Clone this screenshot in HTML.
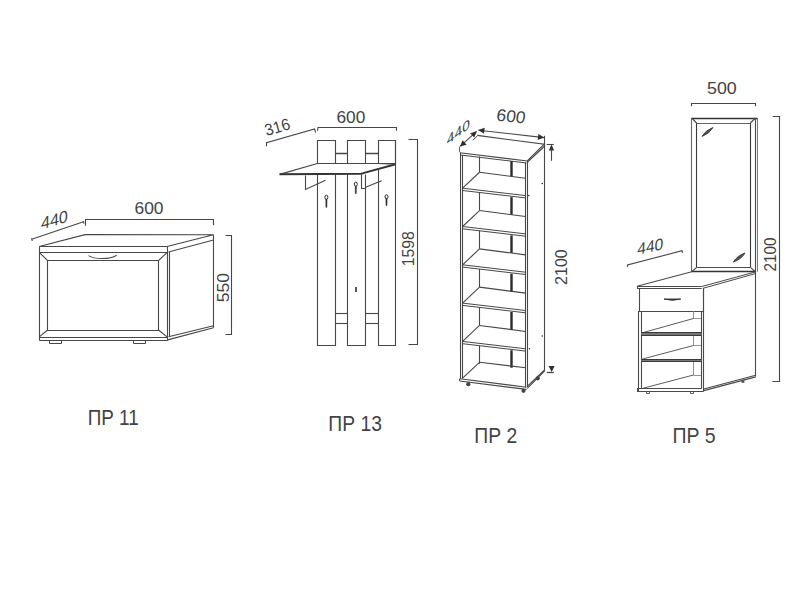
<!DOCTYPE html>
<html><head><meta charset="utf-8">
<style>
html,body{margin:0;padding:0;background:#fff;width:800px;height:600px;overflow:hidden}
svg{display:block}
text{font-family:"Liberation Sans",sans-serif}
</style></head><body>
<svg width="800" height="600" viewBox="0 0 800 600">
<rect width="800" height="600" fill="#fff"/>
<line x1="31.75" y1="239.25" x2="83.5" y2="221.7" stroke="#474747" stroke-width="1.1"/>
<line x1="31.5" y1="238.3" x2="32.3" y2="241.0" stroke="#474747" stroke-width="1.1"/>
<line x1="83.3" y1="221.0" x2="84.0" y2="223.6" stroke="#474747" stroke-width="1.1"/>
<polyline points="85.5,225.75 85.5,219.5 213.5,219.5 213.5,225.2" fill="none" stroke="#474747" stroke-width="1.1"/>
<polygon points="39.25,246.5 85,234.6 213.5,234.75 167,246.5" fill="none" stroke="#474747" stroke-width="1.1"/>
<line x1="39.25" y1="252.5" x2="167" y2="252.5" stroke="#474747" stroke-width="1.1"/>
<line x1="39.5" y1="246.75" x2="39.5" y2="340.0" stroke="#474747" stroke-width="1.1"/>
<line x1="167.5" y1="246.75" x2="167.5" y2="340.0" stroke="#474747" stroke-width="1.1"/>
<line x1="169.5" y1="252.0" x2="169.5" y2="337.0" stroke="#474747" stroke-width="1.1"/>
<polygon points="47.5,260.5 158.5,260.5 158.5,330.5 47.5,330.5" fill="none" stroke="#474747" stroke-width="1.1"/>
<line x1="39.25" y1="252.3" x2="47.6" y2="260.7" stroke="#474747" stroke-width="1.1"/>
<line x1="167" y1="252.5" x2="158.5" y2="260.7" stroke="#474747" stroke-width="1.1"/>
<line x1="47.6" y1="330" x2="39.25" y2="336.9" stroke="#474747" stroke-width="1.1"/>
<line x1="158.5" y1="330" x2="167" y2="336.9" stroke="#474747" stroke-width="1.1"/>
<line x1="39.25" y1="337.5" x2="167.75" y2="337.5" stroke="#474747" stroke-width="1.1"/>
<line x1="39.25" y1="340.5" x2="167.75" y2="340.5" stroke="#474747" stroke-width="1.1"/>
<line x1="168.5" y1="252.0" x2="213.5" y2="240.0" stroke="#474747" stroke-width="1.1"/>
<line x1="168.5" y1="336.75" x2="213.5" y2="325.8" stroke="#474747" stroke-width="1.1"/>
<line x1="167.75" y1="339.9" x2="213.5" y2="327.75" stroke="#474747" stroke-width="1.1"/>
<line x1="213.5" y1="234.75" x2="213.5" y2="327.75" stroke="#474747" stroke-width="1.1"/>
<polyline points="49.5,340.5 49.5,343.5 61.5,343.5 61.5,340.5" fill="none" stroke="#474747" stroke-width="1.0"/>
<polyline points="133.5,340.5 133.5,343.5 145.5,343.5 145.5,340.5" fill="none" stroke="#474747" stroke-width="1.0"/>
<path d="M88.5,255.6 C95,259.6 110,259.6 116.6,255.2" fill="none" stroke="#474747" stroke-width="1.1"/>
<polyline points="225.5,235.5 231.5,235.5 231.5,334.5 225.5,334.5" fill="none" stroke="#474747" stroke-width="1.1"/>
<polyline points="266.5,146.3 266.5,142.75 314.6,129.0 315.6,132.5" fill="none" stroke="#474747" stroke-width="1.1"/>
<polyline points="317.6,130.8 318,127.5 396.5,127.5 396.5,130.8" fill="none" stroke="#474747" stroke-width="1.1"/>
<polyline points="317.5,163.5 317.5,140.5 335.5,140.5 335.5,163.5" fill="none" stroke="#474747" stroke-width="1.1"/>
<polyline points="317.5,174.5 317.5,345.5 335.5,345.5 335.5,174.5" fill="none" stroke="#474747" stroke-width="1.1"/>
<polyline points="347.5,163.5 347.5,140.5 365.5,140.5 365.5,163.5" fill="none" stroke="#474747" stroke-width="1.1"/>
<polyline points="347.5,174.5 347.5,345.5 365.5,345.5 365.5,174.5" fill="none" stroke="#474747" stroke-width="1.1"/>
<polyline points="378.5,163.5 378.5,140.5 395.5,140.5 395.5,163.5" fill="none" stroke="#474747" stroke-width="1.1"/>
<polyline points="378.5,169.8 378.5,345.5 395.5,345.5 395.5,140" fill="none" stroke="#474747" stroke-width="1.1"/>
<line x1="335" y1="153.5" x2="347.75" y2="153.5" stroke="#474747" stroke-width="1.5"/>
<line x1="335" y1="313.5" x2="347.75" y2="313.5" stroke="#474747" stroke-width="1.1"/>
<line x1="335" y1="323.5" x2="347.75" y2="323.5" stroke="#474747" stroke-width="1.1"/>
<line x1="365.6" y1="153.5" x2="378.25" y2="153.5" stroke="#474747" stroke-width="1.5"/>
<line x1="365.6" y1="313.5" x2="378.25" y2="313.5" stroke="#474747" stroke-width="1.1"/>
<line x1="365.6" y1="323.5" x2="378.25" y2="323.5" stroke="#474747" stroke-width="1.1"/>
<line x1="279.6" y1="174.3" x2="317.3" y2="163.5" stroke="#474747" stroke-width="1.2"/>
<line x1="317.3" y1="163.5" x2="395.6" y2="163.5" stroke="#474747" stroke-width="1.2"/>
<path d="M279.6,174.3 L361,173.8 Q363,173.6 365,172.6 L395.6,164.3" fill="none" stroke="#333" stroke-width="2.0"/>
<line x1="380" y1="163.6" x2="395.6" y2="164.3" stroke="#474747" stroke-width="1.0"/>
<polyline points="305.5,175.6 305.5,189.4 325.5,180.2" fill="none" stroke="#474747" stroke-width="1.1"/>
<polyline points="361.5,174.6 361.5,188.5 365.5,188.5" fill="none" stroke="#474747" stroke-width="1.1"/>
<line x1="365.5" y1="187.3" x2="381.6" y2="180.8" stroke="#474747" stroke-width="1.1"/>
<ellipse cx="326.4" cy="197.3" rx="1.5" ry="2.1" fill="none" stroke="#2a2a2a" stroke-width="1.0"/>
<path d="M325.79999999999995,199.3 L325.9,207.3 L326.9,207.3 L327.0,199.3 Z" fill="#2a2a2a" stroke="#2a2a2a" stroke-width="0.5"/>
<ellipse cx="355.8" cy="184.20000000000002" rx="1.5" ry="2.1" fill="none" stroke="#2a2a2a" stroke-width="1.0"/>
<path d="M355.2,186.20000000000002 L355.3,193.5 L356.3,193.5 L356.40000000000003,186.20000000000002 Z" fill="#2a2a2a" stroke="#2a2a2a" stroke-width="0.5"/>
<ellipse cx="386.5" cy="196.8" rx="1.5" ry="2.1" fill="none" stroke="#2a2a2a" stroke-width="1.0"/>
<path d="M385.9,198.8 L386.0,205.6 L387.0,205.6 L387.1,198.8 Z" fill="#2a2a2a" stroke="#2a2a2a" stroke-width="0.5"/>
<path d="M356,287 L356,292" fill="none" stroke="#2a2a2a" stroke-width="1.6"/>
<polyline points="408.5,139.5 417.5,139.5 417.5,344.5 408.5,344.5" fill="none" stroke="#474747" stroke-width="1.1"/>
<line x1="478.5" y1="130.2" x2="544.0" y2="137.6" stroke="#474747" stroke-width="1.1"/>
<polygon points="544.2,137.6 537.70,139.89 538.38,133.92" fill="#2e2e2e"/>
<polygon points="478.2,130.1 484.70,127.81 484.02,133.78" fill="#2e2e2e"/>
<line x1="460.2" y1="146.3" x2="476.6" y2="131.4" stroke="#474747" stroke-width="1.1"/>
<polygon points="476.8,131.2 474.23,137.59 470.19,133.15" fill="#2e2e2e"/>
<polygon points="460.0,146.6 462.57,140.21 466.61,144.65" fill="#2e2e2e"/>
<line x1="459.5" y1="151.8" x2="459.5" y2="146.6" stroke="#474747" stroke-width="0.9"/>
<polyline points="477.25,135.4 544.2,144.2 527.25,161 459.75,152.75" fill="none" stroke="#474747" stroke-width="1.1"/>
<line x1="472.8" y1="140.2" x2="477.25" y2="136.0" stroke="#474747" stroke-width="1.0"/>
<line x1="460.5" y1="155.0" x2="526.5" y2="163.0" stroke="#474747" stroke-width="1.1"/>
<line x1="527.5" y1="162.0" x2="544.2" y2="146.5" stroke="#474747" stroke-width="1.1"/>
<line x1="460.5" y1="152.75" x2="460.5" y2="379.0" stroke="#474747" stroke-width="1.1"/>
<line x1="462.5" y1="155.0" x2="462.5" y2="378.5" stroke="#474747" stroke-width="1.1"/>
<line x1="525.5" y1="162.5" x2="525.5" y2="387.0" stroke="#474747" stroke-width="1.1"/>
<line x1="527.5" y1="161.0" x2="527.5" y2="387.0" stroke="#474747" stroke-width="1.1"/>
<line x1="544.5" y1="135.8" x2="544.5" y2="370.75" stroke="#474747" stroke-width="1.1"/>
<line x1="479.5" y1="172.25" x2="525.5" y2="178.25" stroke="#474747" stroke-width="1.1"/>
<line x1="479.5" y1="172.25" x2="462.6" y2="188.2" stroke="#474747" stroke-width="1.1"/>
<line x1="462.6" y1="188.2" x2="525.5" y2="195.6" stroke="#474747" stroke-width="1.0"/>
<line x1="462.6" y1="190.5" x2="525.5" y2="197.89999999999998" stroke="#474747" stroke-width="1.0"/>
<line x1="479.5" y1="210.55" x2="525.5" y2="216.55" stroke="#474747" stroke-width="1.1"/>
<line x1="479.5" y1="210.55" x2="462.6" y2="226.5" stroke="#474747" stroke-width="1.1"/>
<line x1="462.6" y1="226.5" x2="525.5" y2="233.9" stroke="#474747" stroke-width="1.0"/>
<line x1="462.6" y1="228.8" x2="525.5" y2="236.2" stroke="#474747" stroke-width="1.0"/>
<line x1="479.5" y1="248.85" x2="525.5" y2="254.85" stroke="#474747" stroke-width="1.1"/>
<line x1="479.5" y1="248.85" x2="462.6" y2="264.79999999999995" stroke="#474747" stroke-width="1.1"/>
<line x1="462.6" y1="264.79999999999995" x2="525.5" y2="272.19999999999993" stroke="#474747" stroke-width="1.0"/>
<line x1="462.6" y1="267.09999999999997" x2="525.5" y2="274.49999999999994" stroke="#474747" stroke-width="1.0"/>
<line x1="479.5" y1="287.15" x2="525.5" y2="293.15" stroke="#474747" stroke-width="1.1"/>
<line x1="479.5" y1="287.15" x2="462.6" y2="303.09999999999997" stroke="#474747" stroke-width="1.1"/>
<line x1="462.6" y1="303.09999999999997" x2="525.5" y2="310.49999999999994" stroke="#474747" stroke-width="1.0"/>
<line x1="462.6" y1="305.4" x2="525.5" y2="312.79999999999995" stroke="#474747" stroke-width="1.0"/>
<line x1="479.5" y1="325.45" x2="525.5" y2="331.45" stroke="#474747" stroke-width="1.1"/>
<line x1="479.5" y1="325.45" x2="462.6" y2="341.4" stroke="#474747" stroke-width="1.1"/>
<line x1="462.6" y1="341.4" x2="525.5" y2="348.79999999999995" stroke="#474747" stroke-width="1.0"/>
<line x1="462.6" y1="343.7" x2="525.5" y2="351.09999999999997" stroke="#474747" stroke-width="1.0"/>
<line x1="479.5" y1="156.5" x2="479.5" y2="172.25" stroke="#474747" stroke-width="1.1"/>
<line x1="511.5" y1="161.1" x2="511.5" y2="176.25" stroke="#2a2a2a" stroke-width="2.4"/>
<line x1="479.5" y1="192.5" x2="479.5" y2="210.55" stroke="#474747" stroke-width="1.1"/>
<line x1="511.5" y1="197.1" x2="511.5" y2="214.55" stroke="#2a2a2a" stroke-width="2.4"/>
<line x1="479.5" y1="230.8" x2="479.5" y2="248.85" stroke="#474747" stroke-width="1.1"/>
<line x1="511.5" y1="235.4" x2="511.5" y2="252.85" stroke="#2a2a2a" stroke-width="2.4"/>
<line x1="479.5" y1="269.09999999999997" x2="479.5" y2="287.15" stroke="#474747" stroke-width="1.1"/>
<line x1="511.5" y1="273.7" x2="511.5" y2="291.15" stroke="#2a2a2a" stroke-width="2.4"/>
<line x1="479.5" y1="307.4" x2="479.5" y2="325.45" stroke="#474747" stroke-width="1.1"/>
<line x1="511.5" y1="312.0" x2="511.5" y2="329.45" stroke="#2a2a2a" stroke-width="2.4"/>
<line x1="479.5" y1="345.7" x2="479.5" y2="363.75" stroke="#474747" stroke-width="1.1"/>
<line x1="511.5" y1="350.3" x2="511.5" y2="367.75" stroke="#2a2a2a" stroke-width="2.4"/>
<line x1="479.5" y1="362.3" x2="525.5" y2="367.7" stroke="#474747" stroke-width="1.1"/>
<line x1="479.5" y1="362.3" x2="462.6" y2="378.2" stroke="#474747" stroke-width="1.1"/>
<line x1="459.75" y1="378.8" x2="526.5" y2="387.2" stroke="#474747" stroke-width="1.1"/>
<line x1="459.75" y1="381.0" x2="526.5" y2="389.4" stroke="#474747" stroke-width="1.1"/>
<line x1="459.5" y1="378.8" x2="459.5" y2="381.0" stroke="#474747" stroke-width="1.1"/>
<line x1="527.25" y1="388.3" x2="544.5" y2="371.0" stroke="#474747" stroke-width="1.1"/>
<line x1="527.25" y1="386.4" x2="544.5" y2="370.0" stroke="#474747" stroke-width="1.1"/>
<circle cx="468.3" cy="384.2" r="2.1" fill="#444"/>
<circle cx="523.5" cy="390.8" r="2.1" fill="#444"/>
<circle cx="537.75" cy="378.3" r="2.1" fill="#444"/>
<circle cx="542.25" cy="183.5" r="0.8" fill="#333"/>
<circle cx="528.75" cy="195.5" r="0.8" fill="#333"/>
<circle cx="542.25" cy="336" r="0.8" fill="#333"/>
<circle cx="529.5" cy="348.75" r="0.8" fill="#333"/>
<line x1="546.7" y1="144.5" x2="553.75" y2="144.5" stroke="#474747" stroke-width="1.1"/>
<polygon points="551.5,144.6 554.20,150.60 548.80,150.60" fill="#2e2e2e"/>
<line x1="551.5" y1="149" x2="551.5" y2="160.8" stroke="#474747" stroke-width="1.1"/>
<line x1="546.9" y1="372.5" x2="553.8" y2="372.5" stroke="#474747" stroke-width="1.3"/>
<polygon points="551.6,372.0 548.60,366.00 554.60,366.00" fill="#2e2e2e"/>
<polyline points="691.5,106.2 691.5,103.5 755.5,103.5 755.5,106.2" fill="none" stroke="#474747" stroke-width="1.1"/>
<line x1="691.5" y1="118" x2="691.5" y2="271.75" stroke="#666" stroke-width="1.1"/>
<line x1="757.5" y1="118" x2="757.5" y2="271.75" stroke="#777" stroke-width="1.0"/>
<line x1="691.75" y1="118.5" x2="757.25" y2="118.5" stroke="#333" stroke-width="1.7"/>
<line x1="755.5" y1="118" x2="755.5" y2="271.75" stroke="#4a4a4a" stroke-width="1.1"/>
<line x1="696.6" y1="123.5" x2="750.4" y2="123.5" stroke="#666" stroke-width="1.1"/>
<line x1="696.5" y1="123" x2="696.5" y2="267.3" stroke="#3a3a3a" stroke-width="1.1"/>
<line x1="750.5" y1="123" x2="750.5" y2="267.3" stroke="#3a3a3a" stroke-width="1.1"/>
<line x1="696.6" y1="267.5" x2="750.4" y2="267.5" stroke="#4a4a4a" stroke-width="1.1"/>
<line x1="691.75" y1="118" x2="696.6" y2="123.0" stroke="#4a4a4a" stroke-width="1.1"/>
<line x1="755.5" y1="118" x2="750.4" y2="123.0" stroke="#4a4a4a" stroke-width="1.1"/>
<line x1="691.75" y1="271.75" x2="696.6" y2="267.3" stroke="#4a4a4a" stroke-width="1.1"/>
<line x1="755.5" y1="271.75" x2="750.4" y2="267.3" stroke="#4a4a4a" stroke-width="1.1"/>
<path d="M702.0,136.4 Q705.5,130.2 713.0,127.5 Q709.5,133.7 702.0,136.4 Z" fill="#555" stroke="#3a3a3a" stroke-width="0.9"/>
<path d="M733.4,262 Q737,255.8 745.0,253 Q741.4,259.2 733.4,262 Z" fill="#555" stroke="#3a3a3a" stroke-width="0.9"/>
<polyline points="772.75,116.5 779.5,116.5 779.5,381.5 772.4,381.5" fill="none" stroke="#474747" stroke-width="1.1"/>
<polyline points="627.5,267.0 627.5,265.0 682,250.75 682.7,252.8" fill="none" stroke="#474747" stroke-width="1.1"/>
<line x1="637" y1="286.3" x2="691.75" y2="271.75" stroke="#4a4a4a" stroke-width="1.1"/>
<line x1="691.75" y1="271.5" x2="755.5" y2="271.5" stroke="#333" stroke-width="1.5"/>
<line x1="637" y1="286.5" x2="701.75" y2="286.5" stroke="#4a4a4a" stroke-width="1.1"/>
<line x1="637" y1="288.5" x2="701.75" y2="288.5" stroke="#4a4a4a" stroke-width="1.1"/>
<line x1="637.5" y1="286" x2="637.5" y2="288.5" stroke="#4a4a4a" stroke-width="1.1"/>
<line x1="701.75" y1="286.5" x2="755.5" y2="271.9" stroke="#4a4a4a" stroke-width="1.0"/>
<line x1="703.0" y1="288.3" x2="755.5" y2="273.6" stroke="#4a4a4a" stroke-width="1.0"/>
<polyline points="639.5,288.25 639.5,311.5 703.5,311.5 703.5,288.25" fill="none" stroke="#4a4a4a" stroke-width="1.1"/>
<path d="M664.0,299.0 L680.8,299.0 Q672.4,301.6 664.0,299.0 Z" fill="#333" stroke="#333" stroke-width="0.9"/>
<line x1="638.5" y1="311" x2="638.5" y2="391" stroke="#4a4a4a" stroke-width="1.1"/>
<line x1="641.5" y1="311" x2="641.5" y2="388.4" stroke="#4a4a4a" stroke-width="1.1"/>
<line x1="701.5" y1="311" x2="701.5" y2="388.4" stroke="#4a4a4a" stroke-width="1.1"/>
<line x1="703.5" y1="288.25" x2="703.5" y2="391" stroke="#4a4a4a" stroke-width="1.1"/>
<line x1="755.5" y1="271.75" x2="755.5" y2="376.4" stroke="#4a4a4a" stroke-width="1.1"/>
<line x1="703.8" y1="390.6" x2="755.7" y2="376.9" stroke="#4a4a4a" stroke-width="1.1"/>
<line x1="703.8" y1="389.0" x2="755.7" y2="375.3" stroke="#4a4a4a" stroke-width="1.1"/>
<line x1="693.5" y1="311" x2="693.5" y2="318.5" stroke="#888" stroke-width="0.9"/>
<line x1="693.5" y1="318.5" x2="701" y2="318.5" stroke="#888" stroke-width="0.9"/>
<line x1="642.5" y1="332.75" x2="693.5" y2="318.5" stroke="#4a4a4a" stroke-width="0.9"/>
<line x1="693.5" y1="335" x2="693.5" y2="345.5" stroke="#888" stroke-width="0.9"/>
<line x1="693.5" y1="345.5" x2="701" y2="345.5" stroke="#888" stroke-width="0.9"/>
<line x1="642.5" y1="359.0" x2="693.5" y2="345.5" stroke="#4a4a4a" stroke-width="0.9"/>
<line x1="693.5" y1="361.25" x2="693.5" y2="375.0" stroke="#888" stroke-width="0.9"/>
<line x1="693.5" y1="375.5" x2="701" y2="375.5" stroke="#888" stroke-width="0.9"/>
<line x1="642.5" y1="388.4" x2="693.5" y2="375.0" stroke="#4a4a4a" stroke-width="0.9"/>
<rect x="641.2" y="332.75" width="60.3" height="2.6" fill="#777"/>
<line x1="641.2" y1="332.5" x2="701.5" y2="332.5" stroke="#3a3a3a" stroke-width="1.1"/>
<line x1="641.2" y1="335.5" x2="701.5" y2="335.5" stroke="#3a3a3a" stroke-width="1.1"/>
<rect x="641.2" y="359.0" width="60.3" height="2.6" fill="#777"/>
<line x1="641.2" y1="359.5" x2="701.5" y2="359.5" stroke="#3a3a3a" stroke-width="1.1"/>
<line x1="641.2" y1="361.5" x2="701.5" y2="361.5" stroke="#3a3a3a" stroke-width="1.1"/>
<line x1="637" y1="388.5" x2="701.5" y2="388.5" stroke="#4a4a4a" stroke-width="1.1"/>
<line x1="637" y1="391.5" x2="703.8" y2="391.5" stroke="#4a4a4a" stroke-width="1.1"/>
<line x1="637.5" y1="388.4" x2="637.5" y2="391" stroke="#4a4a4a" stroke-width="1.1"/>
<polyline points="646.5,391 646.5,393.5 649.5,393.5 649.5,391" fill="none" stroke="#4a4a4a" stroke-width="0.9"/>
<polyline points="690.5,391 690.5,393.5 693.5,393.5 693.5,391" fill="none" stroke="#4a4a4a" stroke-width="0.9"/>
<rect x="741.4" y="379.6" width="3.0" height="3.2" fill="#555"/>
<text x="0" y="0" font-size="16.60" fill="#434343" textLength="29.04" lengthAdjust="spacingAndGlyphs" transform="matrix(1 0 0 1 134.50 214.40)">600</text>
<text x="0" y="0" font-size="17.11" fill="#434343" textLength="26.80" lengthAdjust="spacingAndGlyphs" transform="matrix(1 -0.29 -0.02 1 41.00 229.50)">440</text>
<text x="0" y="0" font-size="16.60" fill="#434343" textLength="29.32" lengthAdjust="spacingAndGlyphs" transform="matrix(0 -1 1 0 229.10 302.30)">550</text>
<text x="0" y="0" font-size="21.30" fill="#434343" textLength="51.10" lengthAdjust="spacingAndGlyphs" transform="matrix(1 0 0 1 87.65 425.35)">ПР 11</text>
<text x="0" y="0" font-size="16.40" fill="#434343" textLength="25.68" lengthAdjust="spacingAndGlyphs" transform="matrix(0.9613 -0.2756 0.2756 0.9613 266.50 136.00)">316</text>
<text x="0" y="0" font-size="16.60" fill="#434343" textLength="28.86" lengthAdjust="spacingAndGlyphs" transform="matrix(1 0 0 1 336.40 122.70)">600</text>
<text x="0" y="0" font-size="16.60" fill="#434343" textLength="35.16" lengthAdjust="spacingAndGlyphs" transform="matrix(0 -1 1 0 414.40 266.30)">1598</text>
<text x="0" y="0" font-size="21.30" fill="#434343" textLength="53.52" lengthAdjust="spacingAndGlyphs" transform="matrix(1 0 0 1 328.35 431.00)">ПР 13</text>
<text x="0" y="0" font-size="16.89" fill="#434343" textLength="28.90" lengthAdjust="spacingAndGlyphs" transform="matrix(1 0.1 -0.15 1 495.80 120.60)">600</text>
<text x="0" y="0" font-size="13.50" fill="#434343" textLength="23.09" lengthAdjust="spacingAndGlyphs" transform="matrix(1 -0.78 0 1 446.75 145.50)">440</text>
<text x="0" y="0" font-size="16.60" fill="#434343" textLength="35.68" lengthAdjust="spacingAndGlyphs" transform="matrix(0 -1 1 0 567.35 284.90)">2100</text>
<text x="0" y="0" font-size="21.30" fill="#434343" textLength="42.89" lengthAdjust="spacingAndGlyphs" transform="matrix(1 0 0 1 474.25 442.60)">ПР 2</text>
<text x="0" y="0" font-size="16.60" fill="#434343" textLength="29.77" lengthAdjust="spacingAndGlyphs" transform="matrix(1 0 0 1 707.00 93.50)">500</text>
<text x="0" y="0" font-size="16.60" fill="#434343" textLength="33.95" lengthAdjust="spacingAndGlyphs" transform="matrix(0 -1 1 0 775.70 271.40)">2100</text>
<text x="0" y="0" font-size="16.60" fill="#434343" textLength="26.00" lengthAdjust="spacingAndGlyphs" transform="matrix(1 -0.22 -0.06 1 637.00 255.00)">440</text>
<text x="0" y="0" font-size="21.30" fill="#434343" textLength="43.28" lengthAdjust="spacingAndGlyphs" transform="matrix(1 0 0 1 672.40 442.70)">ПР 5</text>
</svg>
</body></html>
